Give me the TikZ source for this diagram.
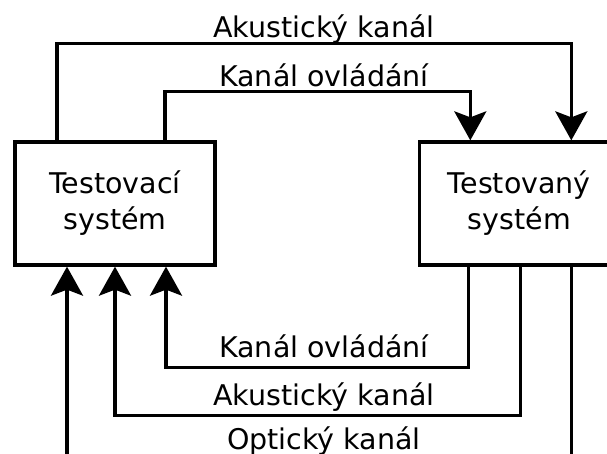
\documentclass[tikz,border=0pt]{standalone}
\usepackage{fontspec}
\setmainfont{DejaVu Sans}
\usepackage{tikz}
\usetikzlibrary{arrows.meta,positioning,calc}

\begin{document}
\begin{tikzpicture}[x=1pt, y=-1pt, font=\fontsize{28.5}{36}\selectfont]
    \tikzstyle{block} = [draw, line width=3.3pt, rectangle, minimum height=123pt, minimum width=200pt, align=center, inner sep=0pt]
    \tikzstyle{channel} = [line width=3.3pt, -{Stealth[length=29pt, width=32pt, inset=6pt]}]
    \tikzstyle{chlabel} = [anchor=base, inner sep=0pt]

    \useasboundingbox (0,0) rectangle (607,454);
    \clip (0,0) rectangle (607,454);

    % Nodes
    \node [block] (tester) at (115,203.5) {Testovací \\ systém};
    \node [block, right=201pt of tester] (sut) {Testovaný \\ systém};

    \node [chlabel] (ak_top) at (324,38) {Akustický kanál};
    \node [chlabel] (ctl_top) at (324,87) {Kanál ovládání};
    \node [chlabel] (ctl_bot) at (324,357) {Kanál ovládání};
    \node [chlabel] (ak_bot) at (324,405) {Akustický kanál};
    \node [chlabel] (opt_bot) at (324,449) {Optický kanál};

    % Paths
    \draw [channel] ([xshift=-58pt]tester.north) -- ++(0,-97) -| ([xshift=52pt]sut.north);
    \draw [channel] ([xshift=50pt]tester.north) -- ++(0,-49) -| ([xshift=-49pt]sut.north);
    \draw [channel] ([xshift=-51pt]sut.south) -- ++(0,101) -| ([xshift=51pt]tester.south);
    \draw [channel] ([xshift=1pt]sut.south) -- ++(0,149) -| (tester.south);
    \draw [channel] ([xshift=52pt]sut.south) -- ++(0,197) -| ([xshift=-48pt]tester.south);
\end{tikzpicture}
\end{document}
